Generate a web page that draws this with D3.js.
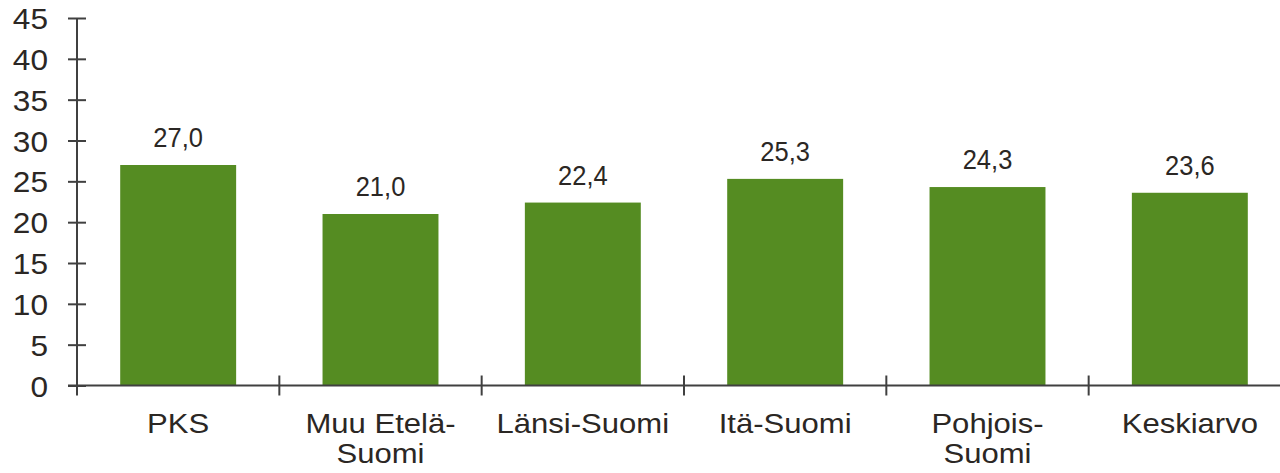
<!DOCTYPE html>
<html>
<head>
<meta charset="utf-8">
<script src="https://cdn.jsdelivr.net/npm/d3@7"></script>
<style>
  html, body { margin: 0; padding: 0; background: #ffffff; }
  svg { display: block; }
  text { font-family: "Liberation Sans", Arial, sans-serif; fill: #2b2724; }
</style>
</head>
<body>
<svg id="chart" width="1280" height="473"></svg>
<script>
const categories = ["PKS", "Muu Etelä-\nSuomi", "Länsi-Suomi", "Itä-Suomi", "Pohjois-\nSuomi", "Keskiarvo"];
const values = [27.0, 21.0, 22.4, 25.3, 24.3, 23.6];
const yTicks = [0, 5, 10, 15, 20, 25, 30, 35, 40, 45];

(function () {
const svg = d3.select("#chart");
const mLeft = 77, mRight = 1291, mTop = 18, mBottom = 385.5;
const axisColor = "#404040";
const barColor = "#558C22";
const stretch = 1.09;

const x = d3.scaleBand().domain(categories).range([mLeft, mRight])
  .paddingInner(0.427).paddingOuter(0.2135);
const y = d3.scaleLinear().domain([0, 45]).range([mBottom, mTop]);

// bars
svg.append("g").selectAll("rect").data(values).join("rect")
  .attr("x", (d, i) => x(categories[i]))
  .attr("y", d => y(d))
  .attr("width", x.bandwidth())
  .attr("height", d => y(0) - y(d))
  .attr("fill", barColor);

// value labels
svg.append("g").selectAll("text").data(values).join("text")
  .attr("transform", (d, i) => `translate(${x(categories[i]) + x.bandwidth() / 2},${y(d) - 18}) scale(1.0,1.1)`)
  .attr("text-anchor", "middle")
  .attr("font-size", 25.5)
  .text(d => d.toFixed(1).replace(".", ","));

// y axis
const yAxis = d3.axisLeft(y).tickValues(yTicks).tickSizeInner(0).tickSizeOuter(0).tickPadding(0);
const gy = svg.append("g").attr("transform", `translate(${mLeft},0)`).call(yAxis);
gy.select(".domain").remove();
gy.selectAll(".tick line").remove();
gy.selectAll(".tick text")
  .attr("x", null).attr("dy", null)
  .attr("transform", `translate(-29,10.5) scale(${stretch},1)`)
  .attr("font-size", 29).attr("fill", "#2b2724")
  .style("font-family", '"Liberation Sans", Arial, sans-serif');
gy.selectAll(".tick").append("line")
  .attr("x1", -9).attr("x2", 9)
  .attr("stroke", axisColor).attr("stroke-width", 2);
svg.append("line")
  .attr("x1", mLeft).attr("x2", mLeft)
  .attr("y1", y(45)).attr("y2", mBottom + 10)
  .attr("stroke", axisColor).attr("stroke-width", 2);

// x axis
svg.append("line")
  .attr("x1", mLeft - 9).attr("x2", 1280)
  .attr("y1", y(0)).attr("y2", y(0))
  .attr("stroke", axisColor).attr("stroke-width", 2);
const step = x.step();
const boundaries = categories.slice(1).map(c => x(c) - x.paddingInner() * step / 2);
svg.append("g").selectAll("line").data(boundaries).join("line")
  .attr("x1", d => d).attr("x2", d => d)
  .attr("y1", y(0) - 10).attr("y2", y(0) + 10)
  .attr("stroke", axisColor).attr("stroke-width", 2);

// category labels
const cl = svg.append("g").selectAll("text").data(categories).join("text")
  .attr("transform", d => `translate(${x(d) + x.bandwidth() / 2},${mBottom + 47.5}) scale(${stretch},1)`)
  .attr("text-anchor", "middle")
  .attr("font-size", 28.5);
cl.each(function (d) {
  const t = d3.select(this);
  d.split("\n").forEach((line, i) => {
    t.append("tspan").attr("x", 0).attr("dy", i === 0 ? 0 : 30).text(line);
  });
});
})();
</script>
</body>
</html>
